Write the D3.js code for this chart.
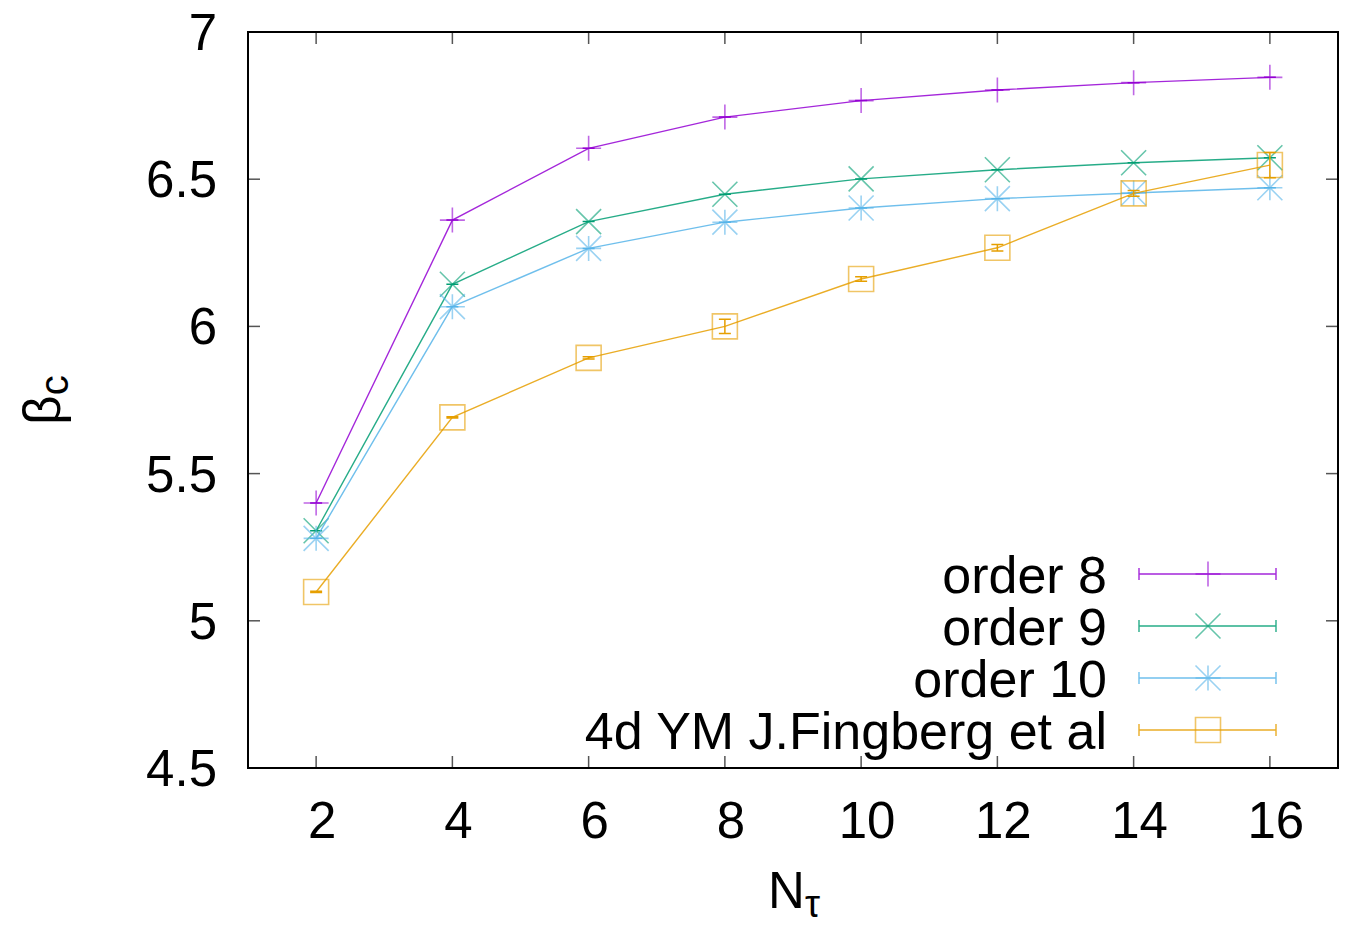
<!DOCTYPE html>
<html lang="en">
<head>
  <meta charset="UTF-8" />
  <title>beta_c vs N_tau</title>
  <script src="https://d3js.org/d3.v7.min.js"></script>
  <style>
    body { margin: 0; background: #fff; }
    svg { display: block; font-family: 'Liberation Sans', Arial, Helvetica, sans-serif; }
    .tick-label { font-size: 51px; fill: #000; }
    .legend-label { font-size: 52px; fill: #000; }
  </style>
</head>
<body>
  <svg id="chart" width="1348" height="927"></svg>
  <script>
    const nTau = [2, 4, 6, 8, 10, 12, 14, 16];
    const order8 = [5.400, 6.361, 6.605, 6.711, 6.767, 6.803, 6.828, 6.846];
    const order9 = [5.306, 6.143, 6.356, 6.449, 6.501, 6.532, 6.556, 6.573];
    const order10 = [5.280, 6.067, 6.265, 6.354, 6.402, 6.434, 6.453, 6.471];
    const fingberg = [5.098, 5.691, 5.893, 6.000, 6.161, 6.267, 6.452, 6.548];
    const fingbergErr = [0.002, 0.002, 0.004, 0.024, 0.008, 0.011, 0.010, 0.043];
    const xTicks = [2, 4, 6, 8, 10, 12, 14, 16];
    const yTicks = [4.5, 5, 5.5, 6, 6.5, 7];

    const series = [
      { name: "order 8", values: order8, color: "#9400d3", marker: "plus" },
      { name: "order 9", values: order9, color: "#009e73", marker: "cross" },
      { name: "order 10", values: order10, color: "#56b4e9", marker: "star" },
      { name: "4d YM J.Fingberg et al", values: fingberg, err: fingbergErr, color: "#e69f00", marker: "square" }
    ];

    const svg = d3.select("#chart");
    const plotL = 248, plotR = 1338, plotT = 32, plotB = 768;

    const x = d3.scaleLinear().domain([1, 17]).range([plotL, plotR]);
    const y = d3.scaleLinear().domain([4.5, 7]).range([plotB, plotT]);

    // ticks (inside, mirrored)
    const tickLen = 12;
    const ticks = svg.append("g").attr("stroke", "#555").attr("stroke-width", 1.5);
    xTicks.forEach(t => {
      ticks.append("line").attr("x1", x(t)).attr("x2", x(t)).attr("y1", plotB).attr("y2", plotB - tickLen);
      ticks.append("line").attr("x1", x(t)).attr("x2", x(t)).attr("y1", plotT).attr("y2", plotT + tickLen);
    });
    yTicks.forEach(t => {
      ticks.append("line").attr("x1", plotL).attr("x2", plotL + tickLen).attr("y1", y(t)).attr("y2", y(t));
      ticks.append("line").attr("x1", plotR).attr("x2", plotR - tickLen).attr("y1", y(t)).attr("y2", y(t));
    });

    // tick labels
    svg.selectAll(".xl").data(xTicks).enter().append("text")
      .attr("class", "tick-label")
      .attr("x", d => x(d) + 6)
      .attr("y", 838)
      .attr("text-anchor", "middle")
      .text(d => d);

    svg.selectAll(".yl").data(yTicks).enter().append("text")
      .attr("class", "tick-label")
      .attr("x", 217)
      .attr("y", d => y(d) + 18)
      .attr("text-anchor", "end")
      .text(d => d);

    // axis labels
    const yLab = svg.append("text")
      .attr("transform", "translate(60,400) rotate(-90)")
      .attr("text-anchor", "middle")
      .attr("font-size", 51);
    yLab.append("tspan").text("β");
    yLab.append("tspan").attr("font-size", 40).attr("dy", 8).text("c");

    const xLab = svg.append("text")
      .attr("x", 794)
      .attr("y", 908)
      .attr("text-anchor", "middle")
      .attr("font-size", 51);
    xLab.append("tspan").text("N");
    xLab.append("tspan").attr("font-size", 38).attr("dy", 9).text("τ");

    // marker path generators (size = full extent)
    function markerPath(type, cx, cy, s) {
      const h = s / 2;
      const p = d3.path();
      if (type === "plus" || type === "star") {
        p.moveTo(cx - h, cy); p.lineTo(cx + h, cy);
        p.moveTo(cx, cy - h); p.lineTo(cx, cy + h);
      }
      if (type === "cross" || type === "star") {
        p.moveTo(cx - h, cy - h); p.lineTo(cx + h, cy + h);
        p.moveTo(cx - h, cy + h); p.lineTo(cx + h, cy - h);
      }
      if (type === "square") {
        p.rect(cx - h, cy - h, s, s);
      }
      return p.toString();
    }

    const line = d3.line().x(d => x(d[0])).y(d => y(d[1]));

    series.forEach(s => {
      const pts = nTau.map((n, i) => [n, s.values[i], s.err ? s.err[i] : 0]);
      const g = svg.append("g");

      g.append("path")
        .attr("d", line(pts))
        .attr("fill", "none")
        .attr("stroke", s.color)
        .attr("stroke-width", 1.4)
        .attr("stroke-opacity", 0.85);

      // error bars
      pts.forEach(d => {
        const cx = x(d[0]);
        const y1 = y(d[1] - d[2]), y2 = y(d[1] + d[2]);
        g.append("path")
          .attr("d", `M${cx},${y1}L${cx},${y2}M${cx - 6},${y1}L${cx + 6},${y1}M${cx - 6},${y2}L${cx + 6},${y2}`)
          .attr("fill", "none")
          .attr("stroke", s.color)
          .attr("stroke-width", 1.5);
      });

      // markers
      g.selectAll(".m").data(pts).enter().append("path")
        .attr("d", d => markerPath(s.marker, x(d[0]), y(d[1]), 25))
        .attr("fill", "none")
        .attr("stroke", s.color)
        .attr("stroke-width", 1.6)
        .attr("stroke-opacity", 0.6);
    });

    // legend
    const legY = [574, 626, 678, 730];
    series.forEach((s, i) => {
      const ly = legY[i];
      const g = svg.append("g");
      g.append("text")
        .attr("class", "legend-label")
        .attr("x", 1107)
        .attr("y", ly + 19)
        .attr("text-anchor", "end")
        .text(s.name);
      g.append("path")
        .attr("d", `M1139,${ly}L1276,${ly}M1139,${ly - 6}L1139,${ly + 6}M1276,${ly - 6}L1276,${ly + 6}`)
        .attr("fill", "none")
        .attr("stroke", s.color)
        .attr("stroke-width", 1.4)
        .attr("stroke-opacity", 0.85);
      g.append("path")
        .attr("d", markerPath(s.marker, 1208, ly, 25))
        .attr("fill", "none")
        .attr("stroke", s.color)
        .attr("stroke-width", 1.6)
        .attr("stroke-opacity", 0.6);
    });

    // border
    svg.append("rect")
      .attr("x", plotL).attr("y", plotT)
      .attr("width", plotR - plotL).attr("height", plotB - plotT)
      .attr("fill", "none")
      .attr("stroke", "#000")
      .attr("stroke-width", 2);
  </script>
</body>
</html>
